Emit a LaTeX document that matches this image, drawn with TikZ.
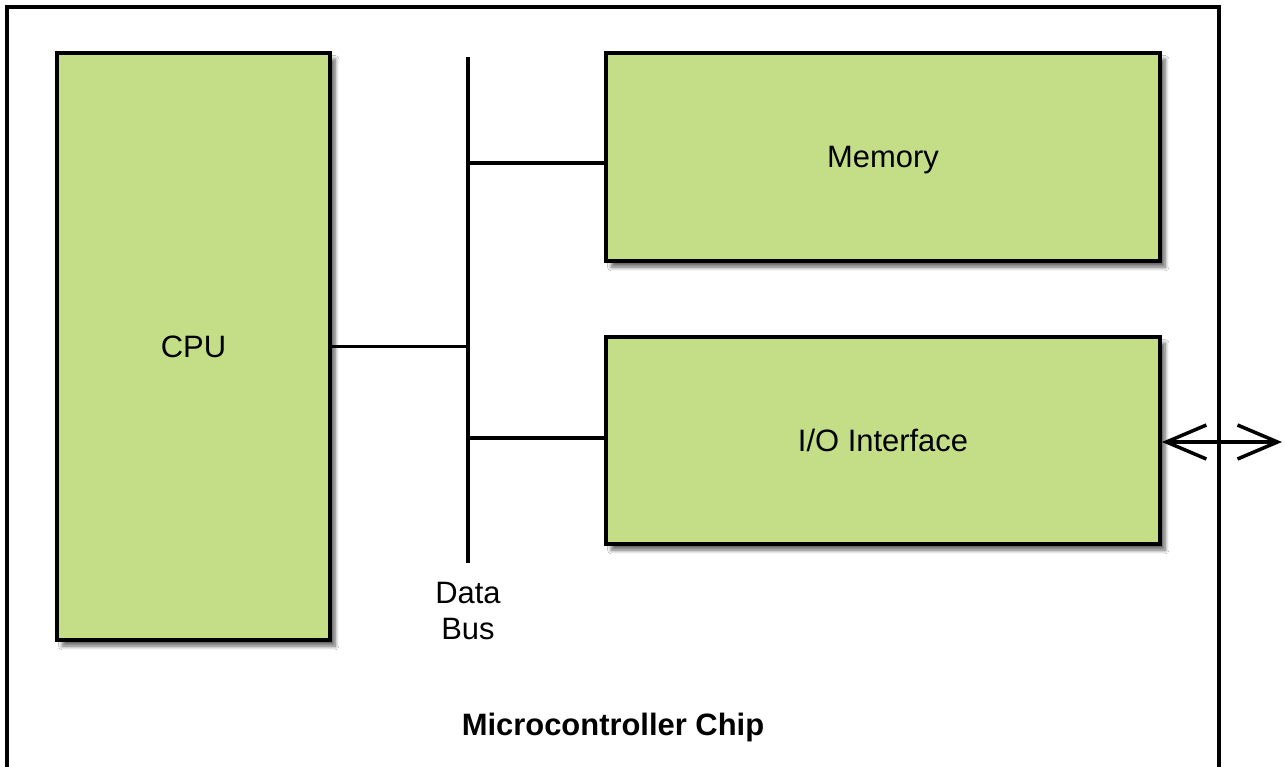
\documentclass[tikz,border=0pt]{standalone}
\usepackage{fontspec}
\setmainfont{Liberation Sans}
\usetikzlibrary{arrows.meta,shadows.blur}

\definecolor{blockgreen}{RGB}{195,222,135}

\tikzset{
	block/.style={draw=black,fill=blockgreen,line width=2.2pt,rectangle,text depth=0pt,
		blur shadow={shadow xshift=3pt,shadow yshift=-3.5pt,shadow blur steps=8,shadow opacity=60},
		font=\fontsize{17.6}{21}\selectfont},
	wire/.style={line width=1.8pt},
	label/.style={font=\fontsize{17.6}{21}\selectfont,align=center}
}

\begin{document}
\begin{tikzpicture}[x=0.02cm,y=-0.02cm]
	\useasboundingbox (0,0) rectangle (1285,767);
	\fill[white] (0,0) rectangle (1285,767);
	\begin{scope}
	\clip (0,0) rectangle (1285,767);
	\draw[line width=2.4pt] (7,7) rectangle (1219,800);
	\end{scope}
	\node[block,minimum width=5.46cm,minimum height=11.74cm] (cpu) at (193.5,346.5) {CPU};
	\node[block,minimum width=11.08cm,minimum height=4.16cm] (mem) at (883,157) {Memory};
	\node[block,minimum width=11.08cm,minimum height=4.14cm] (io) at (883,440.5) {I/O Interface};
	\coordinate (bustop) at (468,57);
	\coordinate (busbot) at (468,563);
	\coordinate (out) at (1282,442);
	\draw[wire](bustop)--(busbot);
	\draw[wire](cpu.east)--(cpu.east -| bustop);
	\draw[wire]([yshift=-0.12cm]mem.west)--([yshift=-0.12cm]mem.west -| bustop);
	\draw[wire]([yshift=0.05cm]io.west)--([yshift=0.05cm]io.west -| bustop);
	\draw[wire,line width=2pt,{Straight Barb[length=0.8cm,width=0.68cm]}-{Straight Barb[length=0.8cm,width=0.68cm]}](io.east |- out)--(out);
	\node[label] (bus) at (468,611) {Data\\Bus};
	\node[label,font=\fontsize{17.6}{21}\selectfont\bfseries] (chip) at (613,727) {Microcontroller Chip};
\end{tikzpicture}
\end{document}
